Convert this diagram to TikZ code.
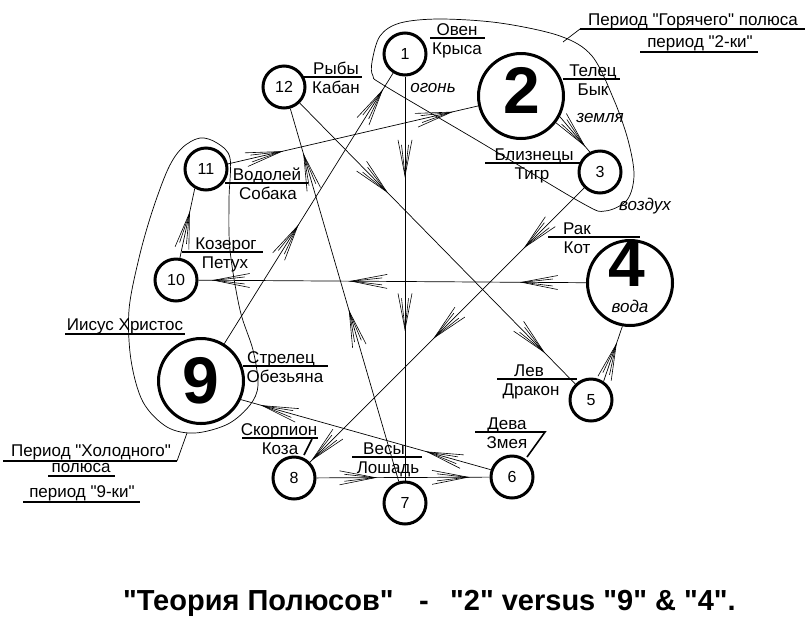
\documentclass[tikz,border=0pt]{standalone}
\usepackage{fontspec}
\newfontfamily\polusfont{Liberation Sans}
\usepackage{tikz}
\usetikzlibrary{arrows.meta,decorations.markings}
\definecolor{polusInk}{HTML}{000000}
\definecolor{polusPaper}{HTML}{FFFFFF}

\begin{document}
\begin{tikzpicture}[x=1pt,y=-1pt,
  font=\polusfont\fontsize{17}{19}\selectfont,
  sign/.style={circle,draw=polusInk,line width=3pt,minimum size=42pt,inner sep=0pt,font=\polusfont\fontsize{16}{16}\selectfont},
  bigsign/.style={sign,minimum size=85pt},
  bigdigit/.style={inner sep=0pt,font=\polusfont\fontsize{66}{66}\selectfont\bfseries},
  lbl/.style={anchor=base,inner sep=0pt},
  elem/.style={anchor=base,inner sep=0pt,font=\polusfont\fontsize{17}{19}\selectfont\itshape},
  uline/.style={draw=polusInk,line width=1.6pt},
  link/.style={draw=polusInk,line width=0.7pt},
  pole/.style={draw=polusInk,line width=0.7pt},
  headline/.style={anchor=base west,inner sep=0pt,font=\polusfont\fontsize{29}{31}\selectfont\bfseries},
  flow/.style={postaction={decorate,decoration={markings,mark=at position #1 with
    {\arrow{Straight Barb[length=36pt,width=14pt,line width=0.6pt]}\arrow{Straight Barb[length=30pt,width=7pt,line width=0.6pt]}}}}}
]
\fill[polusPaper] (0,0) rectangle (810,630);
\useasboundingbox (0,0) rectangle (810,630);

% the twelve signs
\node[sign]    (n1)  at (405,54)  {1};
\node[bigsign] (n2)  at (521,96)  {};
\node[sign]    (n3)  at (600,172) {3};
\node[bigsign] (n4)  at (630,283) {};
\node[sign]    (n5)  at (591,400) {5};
\node[sign]    (n6)  at (512,477) {6};
\node[sign]    (n7)  at (405,503) {7};
\node[sign]    (n8)  at (294,478) {8};
\node[bigsign] (n9)  at (201,381) {};
\node[sign]    (n10) at (176,280) {10};
\node[sign]    (n11) at (206,169) {11};
\node[sign]    (n12) at (284,87)  {12};
\node[bigdigit] (d2) at (522,90)  {2};
\node[bigdigit] (d4) at (627,264) {4};
\node[bigdigit] (d9) at (201,381) {9};

% poles
\draw[pole] plot[smooth cycle,tension=0.55] coordinates {(372,62) (380,36) (400,23) (440,19) (500,23) (560,36) (592,56) (614,100) (628,140) (634,175) (627,200) (605,211) (582,203) (480,142) (385,86) (373,76)};
\draw[pole] plot[smooth cycle,tension=0.55] coordinates {(200,138) (217,143) (230,158) (229,200) (230,250) (240,310) (253,350) (258,385) (250,405) (228,424) (195,433) (167,427) (143,402) (131,360) (129,310) (139,258) (152,212) (168,169) (182,148)};

% connectors
\draw[link,flow=0.25,flow=0.63] (n1) -- (n7);
\draw[link,flow=0.17,flow=0.61,flow=0.965] (n4) -- (n10);
\draw[link,flow=0.22,flow=0.55,flow=0.995] (n3) -- (n8);
\draw[link,flow=0.32,flow=0.89] (n12) -- (n5);
\draw[link,flow=0.44,flow=0.94] (n9) -- (n1);
\draw[link,flow=0.22,flow=0.9] (n11) -- (n2);
\draw[link,flow=0.46,flow=0.88] (n7) -- (n12);
\draw[link,flow=0.26,flow=0.92] (n6.161) -- (n9.-25);
\draw[link,flow=0.35,flow=0.885] (n8) -- (n6);
\draw[link,flow=0.85] (n2.-28) -- (n3.117);
\draw[link,flow=0.7] (n5.56) -- (n4.-100);
\draw[link,flow=0.67] (n10.80) -- (n11.-120);

% sign labels
\node[lbl] (oven)  at (457,35)  {Овен};
\node[lbl] (krysa) at (457,54)  {Крыса};
\draw[uline] (430,38) -- (485,38);
\node[lbl] (telec) at (593,76)  {Телец};
\node[lbl] (byk)   at (593,95)  {Бык};
\draw[uline] (563,79) -- (620,79);
\node[lbl] (blizn) at (534,160) {Близнецы};
\node[lbl] (tigr)  at (532,179) {Тигр};
\draw[uline] (485,163) -- (580,163);
\node[lbl] (rak)   at (577,234) {Рак};
\node[lbl] (kot)   at (577,253) {Кот};
\draw[uline] (548,237) -- (640,237);
\node[lbl] (lev)   at (529,376) {Лев};
\node[lbl] (drakon) at (531,395) {Дракон};
\draw[uline] (497,379) -- (577,379);
\node[lbl] (deva)  at (507,429) {Дева};
\node[lbl] (zmeya) at (507,448) {Змея};
\draw[uline] (475,432) -- (545,432) -- (527,457);
\node[lbl] (vesy)  at (384,454) {Весы};
\node[lbl] (loshad) at (388,473) {Лошадь};
\draw[uline] (352,457) -- (422,457);
\node[lbl] (skorp) at (279,435) {Скорпион};
\node[lbl] (koza)  at (280,454) {Коза};
\draw[uline] (242,438) -- (318,438);
\draw[uline] (312,439) -- (304,455);
\node[lbl] (strel) at (281,363) {Стрелец};
\node[lbl] (obez)  at (285,382) {Обезьяна};
\draw[uline] (243,366) -- (328,366);
\node[lbl] (kozer) at (226,249) {Козерог};
\node[lbl] (petuh) at (225,268) {Петух};
\draw[uline] (182,252) -- (263,252);
\node[lbl] (vodol) at (267,180) {Водолей};
\node[lbl] (sobaka) at (268,199) {Собака};
\draw[uline] (225,183) -- (308,183);
\node[lbl] (ryby)  at (336,74)  {Рыбы};
\node[lbl] (kaban) at (336,93)  {Кабан};
\draw[uline] (302,77) -- (362,77);

% elements
\node[elem] (ogon)   at (433,92)  {огонь};
\node[elem] (zemlya) at (600,122) {земля};
\node[elem] (vozduh) at (645,210) {воздух};
\node[elem] (voda)   at (630,312) {вода};

% pole captions
\node[lbl] (hotA) at (693,25) {Период "Горячего" полюса};
\node[lbl] (hotB) at (700,47) {период "2-ки"};
\draw[link] (563,42) -- (580,29);
\draw[uline] (580,29) -- (805,29);
\draw[uline] (640,52) -- (758,52);
\node[lbl] (jesus) at (125,330) {Иисус Христос};
\draw[uline] (65,334) -- (185,334);
\node[lbl] (coldA) at (91,456) {Период "Холодного"};
\draw[link] (187,433) -- (177,461);
\draw[uline] (3,461) -- (177,461);
\node[lbl] (coldB) at (81,472) {полюса};
\draw[uline] (48,476) -- (115,476);
\node[lbl] (coldC) at (82,497) {период "9-ки"};
\draw[uline] (23,502) -- (140,502);

% title
\node[headline] (title1) at (123,610) {"Теория Полюсов"};
\node[headline] (title2) at (419,610) {-};
\node[headline] (title3) at (450,610) {"2" versus "9" \& "4".};
\end{tikzpicture}
\end{document}
